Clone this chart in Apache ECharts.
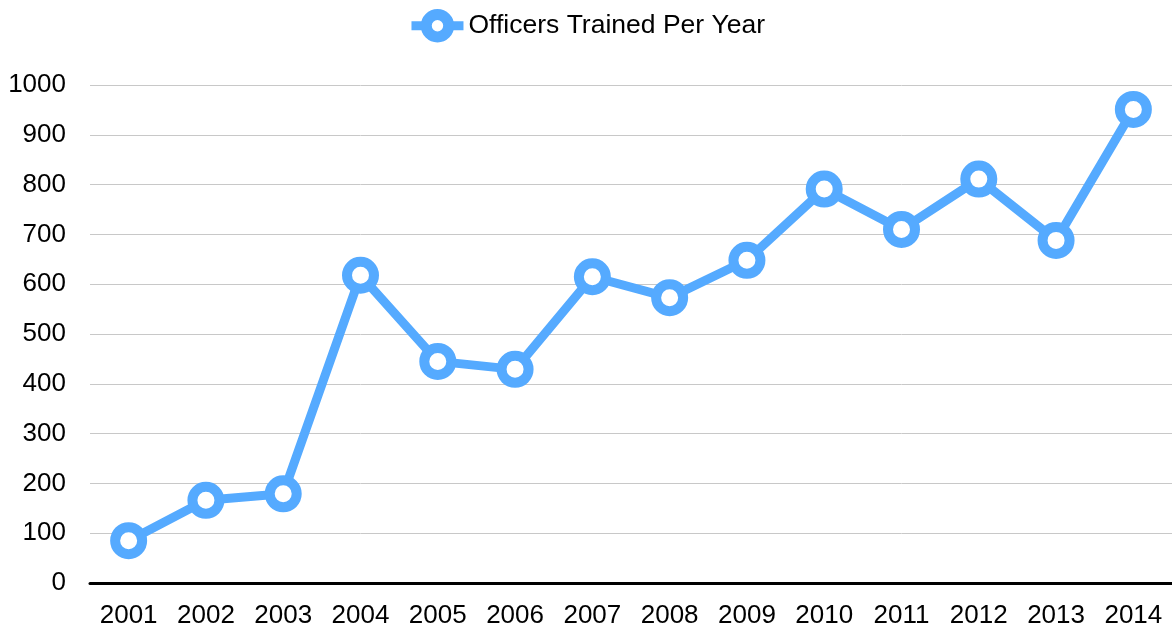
<!DOCTYPE html>
<html>
<head>
<meta charset="utf-8">
<script src="https://cdn.jsdelivr.net/npm/echarts@6/dist/echarts.min.js"></script>
<style>
html,body{margin:0;padding:0;background:#fff;}
#chart{width:1172px;height:629px;}
</style>
</head>
<body>
<div id="chart"></div>
<script>
const years = ['2001','2002','2003','2004','2005','2006','2007','2008','2009','2010','2011','2012','2013','2014'];
const officersTrained = [85,166,179,618,445,429,615,573,648,791,710,811,688,951];
const seriesName = 'Officers Trained Per Year';
const yTicks = {min:0, max:1000, interval:100};

const chart = echarts.init(document.getElementById('chart'), null, {renderer:'canvas'});
const font = '"Liberation Sans", Arial, sans-serif';
chart.setOption({
  animation:false,
  legend:{
    top:4, left:'center',
    itemWidth:52, itemHeight:28,
    itemGap:10,
    textStyle:{fontFamily:font, fontSize:26.5, color:'#000'},
    lineStyle:{width:9},
    itemStyle:{borderWidth:11},
    data:[seriesName]
  },
  grid:{left:90, right:-3, top:85, bottom:42, containLabel:false},
  xAxis:{
    type:'category', data:years, boundaryGap:true,
    axisLine:{lineStyle:{color:'#000', width:3}},
    axisTick:{show:false},
    axisLabel:{fontFamily:font, fontSize:26, color:'#000', margin:20}
  },
  yAxis:{
    type:'value', min:yTicks.min, max:yTicks.max, interval:yTicks.interval,
    axisLine:{show:false}, axisTick:{show:false},
    axisLabel:{fontFamily:font, fontSize:26, color:'#000', margin:24, formatter:function(v){return String(v);}},
    splitLine:{lineStyle:{color:'#c8c8c8', width:1}}
  },
  series:[{
    name:seriesName, type:'line', data:officersTrained,
    symbol:'circle', symbolSize:27,
    lineStyle:{color:'#55aaff', width:9},
    itemStyle:{color:'#fff', borderColor:'#55aaff', borderWidth:10},
    z:3
  }]
});
</script>
</body>
</html>
